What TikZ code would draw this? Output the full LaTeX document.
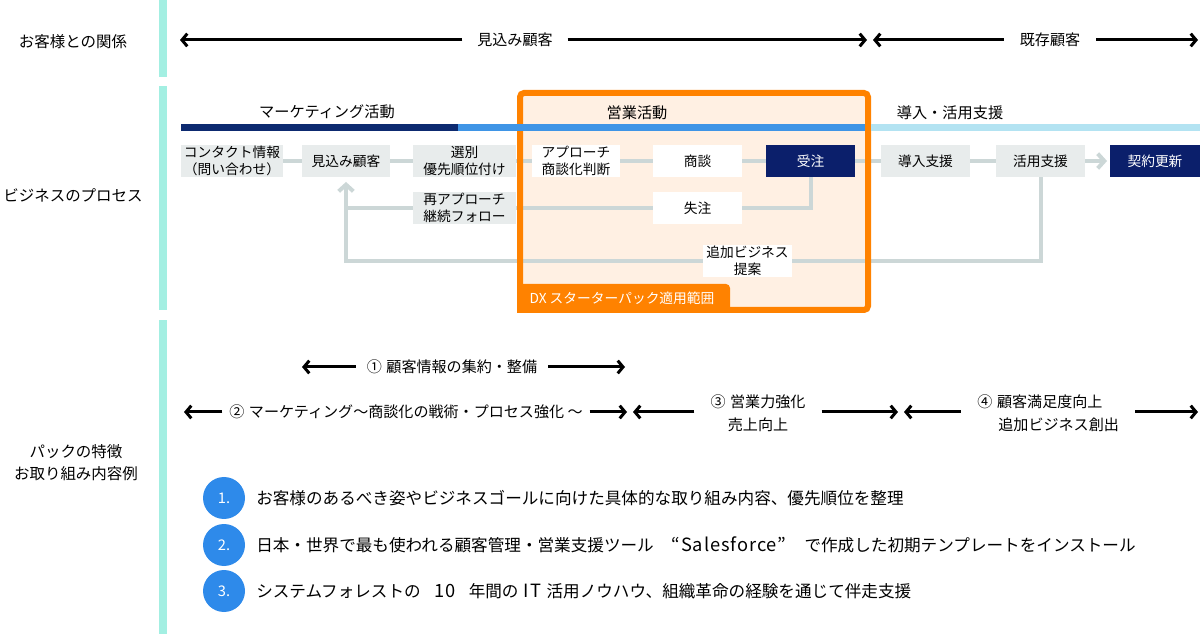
\documentclass[tikz,border=0pt]{standalone}
\usepackage{fontspec}
\setmainfont{Noto Sans CJK JP}
\newfontfamily\widelat[LetterSpace=5,Scale=1.1]{Noto Sans CJK JP}
\usetikzlibrary{arrows.meta}
\definecolor{teal}{HTML}{A3EFE2}
\definecolor{navybox}{HTML}{0B1F6B}
\definecolor{navybar}{HTML}{0D2A70}
\definecolor{bluebar}{HTML}{3F95E6}
\definecolor{lbluebar}{HTML}{B3E3F2}
\definecolor{boxgray}{HTML}{E8ECEC}
\definecolor{linegray}{HTML}{CCD7D7}
\definecolor{orangec}{HTML}{FF8200}
\definecolor{peach}{HTML}{FFF0E3}
\definecolor{circblue}{HTML}{2E8AEA}
\newcommand{\cgap}{\hspace{0.3em}}
\begin{document}
\begin{tikzpicture}[x=0.75pt,y=-0.75pt,
  boxbase/.style={minimum height=24pt, inner sep=0pt, align=center, font=\fontsize{10.3pt}{12.75pt}\selectfont},
  gbox/.style={boxbase, fill=boxgray},
  wbox/.style={boxbase, fill=white},
  nbox/.style={boxbase, fill=navybox, text=white},
  conn/.style={draw=linegray, line width=3pt},
  garrow/.style={-{Straight Barb[length=5pt,width=11pt]}},
  barr/.style={draw=black, line width=2.25pt, -{Straight Barb[length=4pt,width=9.5pt]}},
  rowlbl/.style={font=\fontsize{11.6pt}{16.5pt}\selectfont, align=center, inner sep=0pt},
  arrlbl/.style={font=\fontsize{11.3pt}{17pt}\selectfont, align=center, inner ysep=0pt},
  hdr/.style={font=\fontsize{11.4pt}{14pt}\selectfont, inner sep=0pt},
  listtxt/.style={font=\fontsize{12.45pt}{15pt}\selectfont, anchor=west, inner sep=0pt},
  numc/.style={circle, fill=circblue, minimum size=31.5pt, inner sep=0pt, text=white, font=\fontsize{11pt}{12pt}\selectfont}
]
\useasboundingbox (0,0) rectangle (1200,634);
% left column bars
\fill[teal] (159,0) rectangle (167,77);
\fill[teal] (159,86) rectangle (167,310);
\fill[teal] (159,320) rectangle (167,634);
% row labels
\node[rowlbl] (l1) at (73,42) {お客様との関係};
\node[rowlbl] (l2) at (73,195) {ビジネスのプロセス};
\node[rowlbl] (l3) at (76,463) {パックの特徴\\お取り組み内容例};
% top relationship arrows
\node[arrlbl, inner xsep=11pt] (mk) at (515,40) {見込み顧客};
\coordinate (mkl) at (180,40);
\coordinate (mkr) at (867,40);
\draw[barr] (mk.west) -- (mkl);
\draw[barr] (mk.east) -- (mkr);
\node[arrlbl, inner xsep=12pt] (kz) at (1050,40) {既存顧客};
\coordinate (kzl) at (873,40);
\coordinate (kzr) at (1198,40);
\draw[barr] (kz.west) -- (kzl);
\draw[barr] (kz.east) -- (kzr);
% orange area fill
\fill[peach] (520,93) rectangle (868,310);
% headers
\node[hdr] (h1) at (327,112) {マーケティング活動};
\node[hdr] (h2) at (637,113) {営業活動};
\node[hdr] (h3) at (950,113) {導入・活用支援};
% process nodes
\node[gbox, minimum width=76.5pt] (contact) at (232,161) {コンタクト情報\\（問い合わせ）};
\node[gbox, minimum width=66pt] (mikomi) at (346,161) {見込み顧客};
\node[gbox, minimum width=77.25pt] (senbetsu) at (464.5,161) {選別\\優先順位付け};
\node[wbox, minimum width=66pt] (approach) at (576,161) {アプローチ\\商談化判断};
\node[wbox, minimum width=66.75pt] (shodan) at (697.5,161) {商談};
\node[nbox, minimum width=66.75pt] (juchu) at (810.5,161) {受注};
\node[gbox, minimum width=66.75pt] (donyu) at (925.5,161) {導入支援};
\node[gbox, minimum width=66.75pt] (katsuyo) at (1040.5,161) {活用支援};
\node[nbox, minimum width=67.5pt] (keiyaku) at (1155,161) {契約更新};
\node[gbox, minimum width=77.25pt] (saiapp) at (464.5,208) {再アプローチ\\継続フォロー};
\node[wbox, minimum width=66.75pt] (shitsu) at (697.5,208) {失注};
\node[wbox, minimum width=66.75pt] (tsuika) at (747.5,261) {追加ビジネス\\提案};
\coordinate (join) at (346,208);
% connectors
\draw[conn] (contact.east) -- (mikomi.west);
\draw[conn] (mikomi.east) -- (senbetsu.west);
\draw[conn] (senbetsu.east) -- (approach.west);
\draw[conn] (approach.east) -- (shodan.west);
\draw[conn] (shodan.east) -- (juchu.west);
\draw[conn] (juchu.east) -- (donyu.west);
\draw[conn] (donyu.east) -- (katsuyo.west);
\draw[conn, garrow, shorten >=2pt] (katsuyo.east) -- (keiyaku.west);
\draw[conn] (juchu.south) |- (shitsu.east);
\draw[conn] (shitsu.west) -- (saiapp.east);
\draw[conn, garrow, shorten >=3.5pt] (saiapp.west) -- (join) -- (mikomi.south);
\draw[conn] (katsuyo.south) |- (tsuika.east);
\draw[conn] (tsuika.west) -| (join);
% orange border and tab
\draw[orangec, line width=4.5pt, rounded corners=3pt] (520,93) rectangle (868,310);
\fill[orangec, rounded corners=3pt] (517,284) rectangle (730,313);
\fill[orangec] (517,290) rectangle (530,313);
\node[font=\fontsize{10.3pt}{12pt}\selectfont, text=white, inner sep=0pt] (dx) at (622,298) {DX スターターパック適用範囲};
% header bars
\fill[navybar] (181,124) rectangle (458,131);
\fill[bluebar] (458,124) rectangle (865,131);
\fill[lbluebar] (871,124) rectangle (1200,131);
% feature arrows
\node[arrlbl, inner xsep=8pt] (r1) at (452,367) {①\cgap 顧客情報の集約・整備};
\coordinate (r1l) at (302,367);
\coordinate (r1r) at (625,367);
\draw[barr] (r1.west) -- (r1l);
\draw[barr] (r1.east) -- (r1r);
\node[arrlbl, inner xsep=5pt] (r2) at (406,412) {②\cgap マーケティング～商談化の戦術・プロセス強化 ～};
\coordinate (r2l) at (184,412);
\coordinate (r2r) at (627,412);
\draw[barr] (r2.west) -- (r2l);
\draw[barr] (r2.east) -- (r2r);
\node[arrlbl, inner xsep=12pt] (r3) at (758,413) {③\cgap 営業力強化\\売上向上};
\coordinate (r3l) at (633,412);
\coordinate (r3r) at (898,412);
\draw[barr] (r3.west |- r3l) -- (r3l);
\draw[barr] (r3.east |- r3r) -- (r3r);
\node[arrlbl, inner xsep=12pt] (r4) at (1048,413) {④\cgap 顧客満足度向上\hspace*{12pt}\\\hspace*{16pt}追加ビジネス創出};
\coordinate (r4l) at (904,412);
\coordinate (r4r) at (1198,412);
\draw[barr] (r4.west |- r4l) -- (r4l);
\draw[barr] (r4.east |- r4r) -- (r4r);
% numbered list
\node[numc] (c1) at (224,498) {1.};
\node[numc] (c2) at (224,545) {2.};
\node[numc] (c3) at (224,591) {3.};
\node[listtxt] (t1) at (256,498) {お客様のあるべき姿やビジネスゴールに向けた具体的な取り組み内容、優先順位を整理};
\node[listtxt] (t2) at (256,545) {日本・世界で最も使われる顧客管理・営業支援ツール\makebox[113pt]{\widelat “Salesforce”}で作成した初期テンプレートをインストール};
\node[listtxt] (t3) at (256,591) {システムフォレストの\makebox[36pt]{\widelat 10}年間の\makebox[21pt]{\widelat IT}活用ノウハウ、組織革命の経験を通じて伴走支援};
\end{tikzpicture}
\end{document}
